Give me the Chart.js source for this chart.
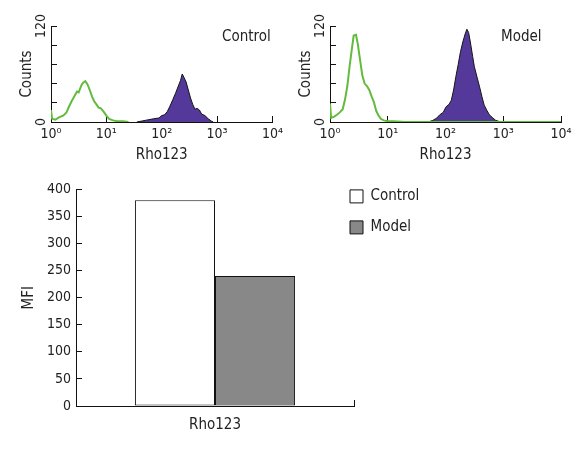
<!DOCTYPE html>
<html>
<head>
<meta charset="utf-8">
<script src="https://cdn.jsdelivr.net/npm/chart.js@4.4.0/dist/chart.umd.min.js"></script>
<style>
  body { margin: 0; background: #fff; }
  #wrap { position: relative; width: 586px; height: 454px; }
  canvas { position: absolute; }
</style>
</head>
<body>
<div id="wrap">
  <canvas id="histControl" width="293" height="170" style="left:0;top:0"></canvas>
  <canvas id="histModel" width="307" height="170" style="left:279px;top:0"></canvas>
  <canvas id="mfiChart" width="586" height="284" style="left:0;top:170px"></canvas>
</div>
<script>
// tick labels
const decadeLabels = ['10⁰', '10¹', '10²', '10³', '10⁴'];
const countLabels = [0, 120];

// Control panel, fluorescence in decades (log10) vs counts
const controlGreenLog = [0, 0.02, 0.08, 0.15, 0.22, 0.28, 0.33, 0.38, 0.43, 0.47, 0.5, 0.55, 0.58, 0.62, 0.66, 0.7, 0.74, 0.78, 0.82, 0.86, 0.9, 0.95, 1.0, 1.05, 1.12, 1.2, 1.3, 1.4];
const controlGreenCount = [15, 4, 3, 6, 8, 12, 20, 27, 33, 38, 37, 46, 49, 51, 47, 40, 32, 26, 22, 18, 17, 13, 8, 4, 2, 1, 1, 0];
const controlPurpleLog = [1.55, 1.7, 1.85, 1.95, 2.0, 2.05, 2.1, 2.15, 2.2, 2.25, 2.3, 2.34, 2.37, 2.4, 2.44, 2.48, 2.52, 2.56, 2.6, 2.64, 2.68, 2.72, 2.78, 2.84, 2.9, 2.93];
const controlPurpleCount = [0, 2, 4, 5, 8, 9, 13, 20, 28, 36, 45, 52, 60, 56, 50, 40, 30, 22, 16, 17, 15, 10, 8, 4, 1, 0];

// Model panel
const modelGreenLog = [0, 0.02, 0.08, 0.12, 0.17, 0.22, 0.26, 0.3, 0.34, 0.38, 0.41, 0.45, 0.48, 0.52, 0.56, 0.6, 0.64, 0.68, 0.72, 0.76, 0.8, 0.84, 0.88, 0.93, 1.0, 1.1, 1.3, 4.0];
const modelGreenCount = [23, 5, 7, 9, 12, 16, 28, 45, 70, 92, 108, 109, 98, 78, 58, 48, 45, 40, 32, 25, 14, 8, 4, 2, 1, 1, 0, 0];
const modelPurpleLog = [1.7, 1.78, 1.85, 1.9, 1.96, 2.01, 2.06, 2.1, 2.14, 2.18, 2.22, 2.26, 2.3, 2.34, 2.37, 2.4, 2.43, 2.47, 2.5, 2.55, 2.59, 2.63, 2.67, 2.72, 2.76, 2.82, 2.87, 2.96];
const modelPurpleCount = [0, 2, 5, 9, 12, 19, 22, 27, 40, 57, 72, 88, 100, 110, 116, 112, 100, 82, 69, 55, 44, 32, 21, 14, 9, 5, 2, 0];

// bar chart
const mfiCategories = ['Rho123'];
const mfiControl = [380];
const mfiModel = [240];

const fontFamily = '"DejaVu Sans Condensed", "DejaVu Sans", sans-serif';
Chart.defaults.font.family = fontFamily;
Chart.defaults.font.size = 14;
Chart.defaults.color = '#222';

function points(xs, ys) {
  return xs.map((x, i) => ({ x: x, y: ys[i] }));
}

const panelLabel = {
  id: 'panelLabel',
  afterDraw(chart, args, opts) {
    const { ctx, chartArea } = chart;
    ctx.save();
    ctx.font = '15px ' + fontFamily;
    ctx.fillStyle = '#222';
    ctx.textBaseline = 'middle';
    ctx.fillText(opts.text, chartArea.left + 171, chartArea.top + 11);
    ctx.restore();
  }
};

const axisGrid = { drawOnChartArea: false, tickLength: -6, color: '#111' };

function histogram(id, label, rightPad, green, purple) {
  return new Chart(document.getElementById(id), {
    type: 'scatter',
    data: {
      datasets: [
        { data: green, showLine: true, borderColor: '#63bb3d', borderWidth: 2, pointRadius: 0, fill: false },
        { data: purple, showLine: true, borderColor: '#151515', borderWidth: 1, backgroundColor: '#54399a', pointRadius: 0, fill: 'origin' }
      ]
    },
    options: {
      responsive: false,
      animation: false,
      layout: { padding: { top: 26, right: rightPad, left: 0, bottom: 0 } },
      plugins: { legend: { display: false }, tooltip: { enabled: false }, panelLabel: { text: label } },
      scales: {
        x: {
          type: 'linear', min: 0, max: 4,
          afterFit: s => { s.height = 48; },
          ticks: { stepSize: 1, padding: 10, maxRotation: 0, autoSkip: false, callback: v => decadeLabels[v] ?? '' },
          grid: axisGrid,
          border: { color: '#111' },
          title: { display: true, text: 'Rho123', font: { size: 15 }, padding: { top: 0, bottom: 6 } }
        },
        y: {
          min: 0, max: 120,
          afterFit: s => { s.width = 51; },
          ticks: { stepSize: 24, autoSkip: false, minRotation: 90, maxRotation: 90, crossAlign: 'center', padding: 4,
            callback: v => countLabels.includes(v) ? String(v) : '' },
          grid: axisGrid,
          border: { color: '#111' },
          title: { display: true, text: 'Counts', font: { size: 15 }, padding: { top: 18, bottom: 0 } }
        }
      }
    },
    plugins: [panelLabel]
  });
}

histogram('histControl', 'Control', 10,
  points(controlGreenLog, controlGreenCount), points(controlPurpleLog, controlPurpleCount));
histogram('histModel', 'Model', 25,
  points(modelGreenLog, modelGreenCount), points(modelPurpleLog, modelPurpleCount));

// move the legend up beside the bars
const legendPlacer = {
  id: 'legendPlacer',
  afterLayout(chart) {
    const lg = chart.legend, area = chart.chartArea;
    lg.left = area.right - 20;
    lg.right = lg.left + 150;
    lg.width = 150;
    lg.top = area.top - 16.5;
    lg.bottom = lg.top + 120;
    lg.height = 120;
  }
};

new Chart(document.getElementById('mfiChart'), {
  type: 'bar',
  data: {
    labels: mfiCategories,
    datasets: [
      { label: 'Control', data: mfiControl, backgroundColor: '#ffffff', borderColor: '#111', borderWidth: 1, borderSkipped: false },
      { label: 'Model', data: mfiModel, backgroundColor: '#888888', borderColor: '#111', borderWidth: 1, borderSkipped: false }
    ]
  },
  options: {
    responsive: false,
    animation: false,
    datasets: { bar: { categoryPercentage: 0.576, barPercentage: 1 } },
    layout: { padding: { top: 15, right: 231, bottom: 0, left: 0 } },
    plugins: {
      legend: { position: 'right', align: 'start', maxWidth: 1,
        labels: { boxWidth: 13, boxHeight: 13, padding: 16, color: '#222', font: { size: 15 } } },
      tooltip: { enabled: false }
    },
    scales: {
      x: {
        afterFit: s => { s.height = 48; },
        ticks: { padding: 16, font: { size: 15 } },
        grid: axisGrid,
        border: { color: '#111' }
      },
      y: {
        min: 0, max: 400,
        afterFit: s => { s.width = 76; },
        ticks: { stepSize: 50, padding: 11 },
        grid: axisGrid,
        border: { color: '#111' },
        title: { display: true, text: 'MFI', font: { size: 15 }, padding: { top: 20, bottom: 0 } }
      }
    }
  },
  plugins: [legendPlacer]
});
</script>
</body>
</html>
